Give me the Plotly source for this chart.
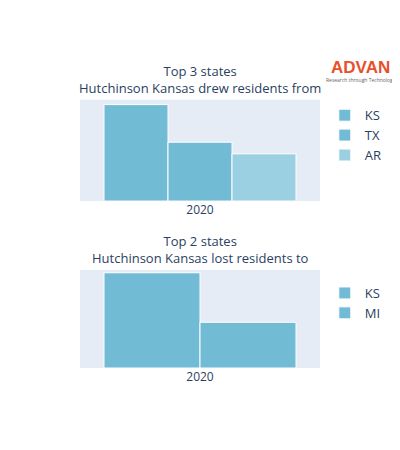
import plotly.graph_objects as go

year = ["2020"]
from_states = ["KS", "TX", "AR"]
from_values = [100, 61, 49]
from_colors = ["#72BBD5", "#72BBD5", "#9BD0E3"]
to_states = ["KS", "MI"]
to_values = [100, 48]
to_colors = ["#72BBD5", "#72BBD5"]

fig = go.Figure()
for s, v, c in zip(from_states, from_values, from_colors):
    fig.add_trace(go.Bar(x=year, y=[v], name=s, marker_color=c,
                         marker_line=dict(color="white", width=1),
                         xaxis="x", yaxis="y", legend="legend"))
for s, v, c in zip(to_states, to_values, to_colors):
    fig.add_trace(go.Bar(x=year, y=[v], name=s, marker_color=c,
                         marker_line=dict(color="white", width=1),
                         xaxis="x2", yaxis="y2", legend="legend2"))

fig.update_layout(
    width=400, height=450,
    margin=dict(l=72, r=88, t=0, b=0),
    plot_bgcolor="#E5ECF6", paper_bgcolor="white",
    font=dict(family="Open Sans, Verdana, sans-serif", color="#2a3f5f", size=12),
    barmode="group", bargap=0.2, bargroupgap=0,
    xaxis=dict(domain=[0, 1], anchor="y", showgrid=False),
    yaxis=dict(domain=[0.571, 0.796], range=[0, 105], showticklabels=False, showgrid=False, zeroline=False),
    xaxis2=dict(domain=[0, 1], anchor="y2", showgrid=False),
    yaxis2=dict(domain=[0.2, 0.418], range=[0, 103], showticklabels=False, showgrid=False, zeroline=False),
    legend=dict(x=1.02, y=0.795, yanchor="top", font=dict(size=13)),
    legend2=dict(x=1.02, y=0.4, yanchor="top", font=dict(size=13)),
    annotations=[
        dict(text="Top 3 states<br>Hutchinson Kansas drew residents from", x=0.5, y=0.797,
             xref="paper", yref="paper", yanchor="bottom", showarrow=False, font=dict(size=13)),
        dict(text="Top 2 states<br>Hutchinson Kansas lost residents to", x=0.5, y=0.42,
             xref="paper", yref="paper", yanchor="bottom", showarrow=False, font=dict(size=13)),
        dict(text="<b>ADVAN</b>", x=1.17, y=0.868, xref="paper", yref="paper", xanchor="center",
             yanchor="middle", showarrow=False, font=dict(size=17, color="#E8502A", family="Arial")),
        dict(text="Research through Technology", x=1.17, y=0.84, xref="paper", yref="paper",
             xanchor="center", yanchor="middle", showarrow=False, font=dict(size=5, color="#666")),
    ],
)
fig.write_html("out.html")
